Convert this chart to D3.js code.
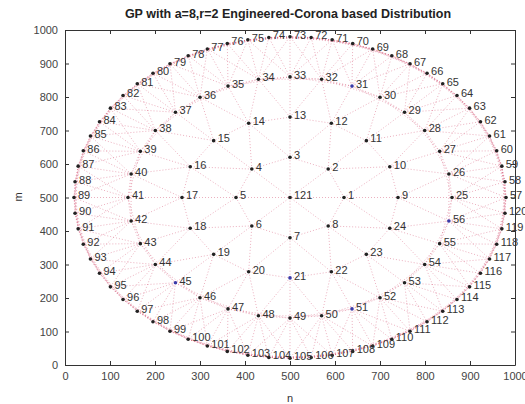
<!DOCTYPE html>
<html>
<head>
<meta charset="utf-8">
<script src="https://cdn.jsdelivr.net/npm/d3@7"></script>
<style>
  html, body { margin: 0; padding: 0; background: #fff; }
  svg { display: block; font-family: "Liberation Sans", Arial, sans-serif; }
</style>
</head>
<body>
<svg id="chart" width="525" height="404"></svg>
<script>
// Corona layout: a centre node plus concentric rings whose node counts follow a GP (a=8, r=2)
const ringCounts = [8, 16, 32, 64];
const ringRadii = [120, 240, 360, 480];
const centre = [500, 500];
const centreId = 121;
// nodes drawn with a blue marker
const blueNodes = [21, 31, 45, 51, 56];
// maximum communication range used for the dotted links
const linkRange = 165;

const xTicks = [0, 100, 200, 300, 400, 500, 600, 700, 800, 900, 1000];
const yTicks = [0, 100, 200, 300, 400, 500, 600, 700, 800, 900, 1000];
const titleText = "GP with a=8,r=2 Engineered-Corona based Distribution";
const xLabel = "n";
const yLabel = "m";

// build node list ring by ring, counter-clockwise from the positive x direction
const nodes = [];
let id = 1;
ringCounts.forEach((count, k) => {
  for (let i = 0; i < count; i++) {
    const a = 2 * Math.PI * i / count;
    nodes.push({ id: id++, x: centre[0] + ringRadii[k] * Math.cos(a), y: centre[1] + ringRadii[k] * Math.sin(a) });
  }
});
nodes.push({ id: centreId, x: centre[0], y: centre[1] });

const links = [];
for (let i = 0; i < nodes.length; i++) {
  for (let j = i + 1; j < nodes.length; j++) {
    const dx = nodes[i].x - nodes[j].x, dy = nodes[i].y - nodes[j].y;
    if (Math.hypot(dx, dy) <= linkRange) links.push([nodes[i], nodes[j]]);
  }
}

const svg = d3.select("#chart");
const x = d3.scaleLinear().domain([0, 1000]).range([65, 515]);
const y = d3.scaleLinear().domain([0, 1000]).range([365, 30]);

// links
svg.append("g")
  .selectAll("line")
  .data(links)
  .join("line")
  .attr("x1", d => x(d[0].x)).attr("y1", d => y(d[0].y))
  .attr("x2", d => x(d[1].x)).attr("y2", d => y(d[1].y))
  .attr("stroke", "#d24a6c")
  .attr("stroke-opacity", 0.55)
  .attr("stroke-width", 0.8)
  .attr("stroke-dasharray", "1,2");

// axes box with inward ticks on all four sides
const fmt = d3.format("d");
const tickStyle = g => {
  g.selectAll("path").attr("stroke", "#333");
  g.selectAll("line").attr("stroke", "#333");
  g.selectAll("text").attr("fill", "#444").attr("font-size", 11);
};
svg.append("g").attr("transform", "translate(0,365)")
  .call(d3.axisBottom(x).tickValues(xTicks).tickFormat(fmt).tickSize(-4).tickPadding(7).tickSizeOuter(0))
  .call(tickStyle);
svg.append("g").attr("transform", "translate(0,30)")
  .call(d3.axisTop(x).tickValues(xTicks).tickSize(-4).tickFormat("").tickSizeOuter(0))
  .call(tickStyle);
svg.append("g").attr("transform", "translate(65,0)")
  .call(d3.axisLeft(y).tickValues(yTicks).tickFormat(fmt).tickSize(-4).tickPadding(7).tickSizeOuter(0))
  .call(tickStyle);
svg.append("g").attr("transform", "translate(515,0)")
  .call(d3.axisRight(y).tickValues(yTicks).tickSize(-4).tickFormat("").tickSizeOuter(0))
  .call(tickStyle);

// nodes
svg.append("g")
  .selectAll("circle")
  .data(nodes)
  .join("circle")
  .attr("cx", d => x(d.x)).attr("cy", d => y(d.y))
  .attr("r", 1.8)
  .attr("fill", d => blueNodes.includes(d.id) ? "#3a3aa8" : "#222");

// node labels
svg.append("g")
  .selectAll("text")
  .data(nodes)
  .join("text")
  .attr("x", d => x(d.x) + 4)
  .attr("y", d => y(d.y) - 2)
  .attr("dy", "0.35em")
  .attr("font-size", 11)
  .attr("fill", "#333")
  .text(d => d.id);

// title and axis labels
svg.append("text")
  .attr("x", 288).attr("y", 18)
  .attr("text-anchor", "middle")
  .attr("font-size", 12.5).attr("font-weight", "bold")
  .attr("fill", "#222")
  .text(titleText);
svg.append("text")
  .attr("x", 290).attr("y", 402)
  .attr("text-anchor", "middle")
  .attr("font-size", 11).attr("fill", "#333")
  .text(xLabel);
svg.append("text")
  .attr("transform", "translate(22,197) rotate(-90)")
  .attr("text-anchor", "middle")
  .attr("font-size", 11).attr("fill", "#333")
  .text(yLabel);
</script>
</body>
</html>
